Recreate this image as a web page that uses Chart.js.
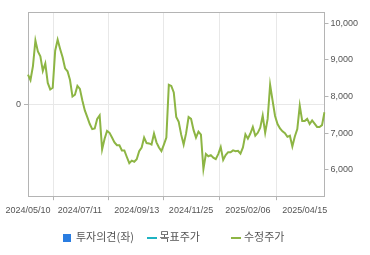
<!DOCTYPE html>
<html>
<head>
<meta charset="utf-8">
<script src="https://cdn.jsdelivr.net/npm/chart.js@4.4.1/dist/chart.umd.min.js"></script>
<style>
html,body{margin:0;padding:0;background:#fff;}
#wrap{position:relative;width:370px;height:255px;}
#legend{position:absolute;left:0;top:228px;width:370px;height:16px;font-family:"Noto Sans CJK KR","Noto Sans",sans-serif;font-size:11px;color:#555;}
#legend span{position:absolute;top:0;line-height:16px;white-space:nowrap;}
.sq{display:inline-block;width:8px;height:8px;}
.ln{display:inline-block;width:10px;height:2px;}
</style>
</head>
<body>
<div id="wrap">
<canvas id="c" width="370" height="255"></canvas>
<div id="legend"></div>
</div>
<script>
const tickLabels = ['2024/05/10','2024/07/11','2024/09/13','2024/11/25','2025/02/06','2025/04/15'];
const tickIndex = [0,21,44,66,89,112];
const priceTicks = [6000,7000,8000,9000,10000];
const opinion = [];
const target = [];
const prices = [
 8600,8450,8830,9530,9230,9100,8700,8900,8370,8195,
 8240,9250,9550,9300,9070,8770,8690,8450,8000,8050,
 8290,8210,7890,7620,7440,7250,7110,7130,7390,7485,
 6560,6850,7060,7010,6880,6750,6670,6670,6530,6530,
 6350,6180,6250,6220,6290,6510,6610,6880,6730,6720,
 6690,6990,6750,6610,6510,6690,6880,8320,8290,8110,
 7440,7310,6960,6690,7000,7440,7390,7090,6880,7040,
 6960,6020,6430,6370,6400,6330,6290,6430,6620,6270,
 6400,6480,6480,6530,6510,6520,6440,6610,6970,6850,
 6990,7170,6930,7010,7150,7480,7010,7390,8320,7890,
 7470,7250,7130,7050,7000,6900,6930,6640,6910,7110,
 7750,7330,7330,7390,7250,7350,7260,7170,7170,7220,
 7570
];
const labels = prices.map((_, i) => {
  const k = tickIndex.indexOf(i);
  return k >= 0 ? tickLabels[k] : '';
});

const legendItems = [
  {text:'투자의견(좌)', color:'#2a7de1', kind:'sq'},
  {text:'목표주가', color:'#1fb3c2', kind:'ln'},
  {text:'수정주가', color:'#8db544', kind:'ln'}
];
const legendPos = [[62.5,76],[147,159.5],[231,244]];
const lg = document.getElementById('legend');
legendItems.forEach((it, i) => {
  const m = document.createElement('span');
  m.style.left = legendPos[i][0] + 'px';
  m.innerHTML = '<i class="' + it.kind + '" style="background:' + it.color + ';vertical-align:middle;"></i>';
  lg.appendChild(m);
  const t = document.createElement('span');
  t.style.left = legendPos[i][1] + 'px';
  t.textContent = it.text;
  lg.appendChild(t);
});

const boxPlugin = {
  id: 'box',
  afterDraw(chart) {
    const a = chart.chartArea, ctx = chart.ctx;
    ctx.save();
    ctx.strokeStyle = '#b4b4b4';
    ctx.lineWidth = 1;
    ctx.beginPath();
    ctx.moveTo(Math.round(a.left) + 0.5, Math.round(a.top) + 0.5);
    ctx.lineTo(Math.round(a.right) + 0.5, Math.round(a.top) + 0.5);
    ctx.stroke();
    ctx.restore();
  }
};

const tickFont = {family: '"Liberation Sans", Arial, sans-serif', size: 9};
new Chart(document.getElementById('c'), {
  data: {
    labels: labels,
    datasets: [
      {type:'bar', label:'투자의견(좌)', data: opinion, yAxisID:'yL', backgroundColor:'#2a7de1'},
      {type:'line', label:'목표주가', data: target, yAxisID:'yR', borderColor:'#1fb3c2', borderWidth:2, pointRadius:0},
      {type:'line', label:'수정주가', data: prices, yAxisID:'yR', borderColor:'#8db544', borderWidth:2, pointRadius:0, tension:0}
    ]
  },
  options: {
    responsive: false,
    animation: false,
    layout: {padding: {left: 13, right: 10, top: 12, bottom: 34}},
    plugins: {legend: {display:false}, tooltip: {enabled:false}},
    scales: {
      x: {
        type: 'category',
        offset: false,
        grid: {color:'#e8e8e8', tickColor:'#b4b4b4', tickLength:4},
        border: {color:'#b4b4b4'},
        ticks: {
          autoSkip:false, maxRotation:0, minRotation:0, padding:5,
          color:'#555', font: tickFont,
          callback: function(v, i) { const l = labels[i]; return l ? l : null; }
        }
      },
      yL: {
        position:'left', min:-1, max:1,
        afterBuildTicks: s => { s.ticks = [{value:0}]; },
        grid: {color:'#e8e8e8', tickColor:'#b4b4b4', tickLength:4},
        border: {color:'#b4b4b4'},
        ticks: {color:'#555', font: tickFont, padding:3}
      },
      yR: {
        position:'right', min:5280, max:10307,
        afterBuildTicks: s => { s.ticks = priceTicks.map(v => ({value:v})); },
        grid: {drawOnChartArea:false, tickColor:'#b4b4b4', tickLength:4},
        border: {color:'#b4b4b4'},
        ticks: {color:'#555', font: tickFont, padding:2,
          callback: v => v.toLocaleString('en-US')}
      }
    }
  },
  plugins: [boxPlugin]
});
</script>
</body>
</html>
